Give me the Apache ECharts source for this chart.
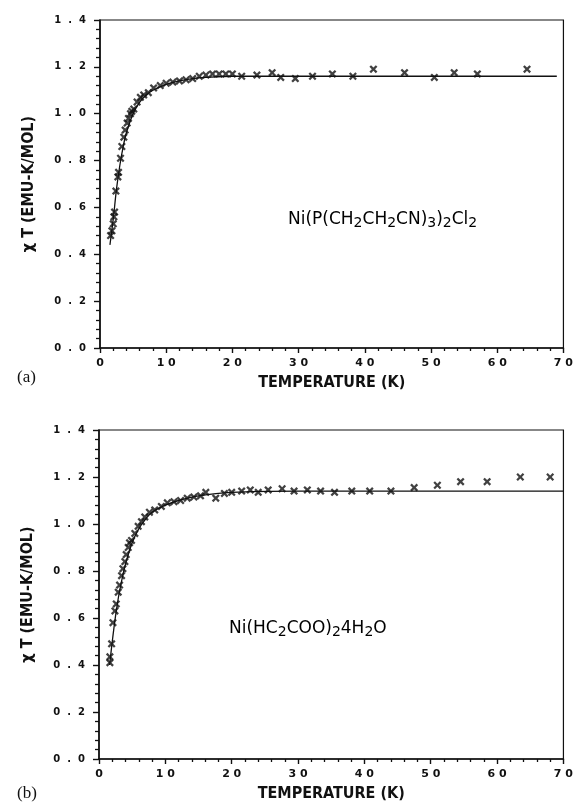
<!DOCTYPE html>
<html>
<head>
<meta charset="utf-8">
<script src="https://cdn.jsdelivr.net/npm/echarts@6/dist/echarts.min.js"></script>
<style>html,body{margin:0;padding:0;background:#fff;}#c{width:576px;height:807px;}</style>
</head>
<body>
<div id="c"></div>
<script>
// ---- Data: panel (a) Ni(P(CH2CH2CN)3)2Cl2 ----
const aTemp = [1.6,1.8,2.0,2.1,2.2,2.4,2.7,2.8,3.1,3.3,3.6,3.8,4.1,4.3,4.6,4.8,5.1,5.6,6.1,6.6,7.3,8.1,9.1,10.0,11.0,12.0,13.0,14.0,15.0,16.0,17.0,18.0,19.0,20.0,21.4,23.7,26.0,27.3,29.5,32.1,35.1,38.2,41.3,46.0,50.5,53.5,57.0,64.5];
const aChiT = [0.48,0.50,0.53,0.56,0.58,0.67,0.73,0.75,0.81,0.86,0.90,0.93,0.96,0.98,1.00,1.01,1.02,1.05,1.07,1.08,1.09,1.11,1.12,1.13,1.135,1.14,1.145,1.15,1.16,1.165,1.17,1.17,1.17,1.17,1.16,1.165,1.175,1.155,1.15,1.16,1.17,1.16,1.19,1.175,1.155,1.175,1.17,1.19];
const aFitT = [1.5,2,2.5,3,3.5,4,5,6,7,8,10,12,14,16,20,30,40,50,69];
const aFitY = [0.44,0.55,0.68,0.78,0.86,0.92,1.00,1.05,1.08,1.10,1.125,1.14,1.15,1.155,1.16,1.16,1.16,1.16,1.16];

// ---- Data: panel (b) Ni(HC2COO)2·4H2O ----
const bTemp = [1.64,1.64,1.9,2.1,2.4,2.6,2.9,3.1,3.4,3.6,3.9,4.1,4.4,4.6,4.9,5.4,5.9,6.4,6.9,7.6,8.4,9.4,10.3,11.3,12.3,13.3,14.3,15.3,16.1,17.6,18.9,20.0,21.5,22.8,24.0,25.5,27.6,29.4,31.4,33.4,35.5,38.1,40.8,44.0,47.5,51.0,54.5,58.5,63.5,68.0];
const bChiT = [0.41,0.435,0.49,0.58,0.63,0.66,0.71,0.74,0.78,0.81,0.84,0.87,0.90,0.92,0.93,0.96,0.99,1.01,1.03,1.05,1.06,1.075,1.09,1.095,1.10,1.11,1.115,1.12,1.135,1.11,1.13,1.135,1.14,1.145,1.135,1.145,1.15,1.14,1.145,1.14,1.135,1.14,1.14,1.14,1.155,1.165,1.18,1.18,1.20,1.20];
const bFitT = [1.6,2,2.5,3,3.5,4,5,6,7,8,10,12,15,20,30,40,70];
const bFitY = [0.40,0.50,0.61,0.70,0.77,0.83,0.92,0.98,1.02,1.05,1.08,1.10,1.12,1.135,1.14,1.14,1.14];

const xTicks = {min:0, max:70, interval:10};
const yTicks = {min:0, max:1.4, interval:0.2};
const xName = 'TEMPERATURE (K)';
const yName = 'χ T (EMU-K/MOL)';

const zip = (xs, ys) => xs.map((x,i)=>[x, ys[i]]);
const cross = 'path://M0,2L2,0L5,3L8,0L10,2L7,5L10,8L8,10L5,7L2,10L0,8L3,5Z';

function xAxis(gi){
  return {
    type:'value', gridIndex:gi, min:xTicks.min, max:xTicks.max, interval:xTicks.interval,
    name:xName, nameLocation:'middle', nameGap:27,
    nameTextStyle:{fontFamily:'Liberation Sans Narrow, DejaVu Sans Condensed, sans-serif', fontWeight:'bold', fontSize:16, color:'#111'},
    axisLine:{show:true, onZero:false, lineStyle:{color:'#111', width:1.6}},
    axisTick:{show:true, inside:false, length:5, lineStyle:{color:'#111', width:1.4}},
    minorTick:{show:true, splitNumber:5, length:3, lineStyle:{color:'#111', width:1.3}},
    splitLine:{show:false},
    axisLabel:{color:'#111', fontWeight:'bold', fontSize:11, fontFamily:'DejaVu Sans', margin:10,
      formatter:v=>String(v).split('').join(' ')}
  };
}
function yAxis(gi){
  return {
    type:'value', gridIndex:gi, min:yTicks.min, max:yTicks.max, interval:yTicks.interval,
    name:yName, nameLocation:'middle', nameGap:63, nameRotate:90,
    nameTextStyle:{fontFamily:'Liberation Sans Narrow, DejaVu Sans Condensed, sans-serif', fontWeight:'bold', fontSize:16, color:'#111'},
    axisLine:{show:true, onZero:false, lineStyle:{color:'#111', width:1.6}},
    axisTick:{show:true, inside:false, length:6, lineStyle:{color:'#111', width:1.4}},
    minorTick:{show:true, splitNumber:5, length:4, lineStyle:{color:'#111', width:1.3}},
    splitLine:{show:false},
    axisLabel:{color:'#111', fontWeight:'bold', fontSize:10, fontFamily:'DejaVu Sans', margin:14,
      formatter:v=>v.toFixed(1).split('').join('  ')}
  };
}
function fitSeries(gi, xs, ys){
  return {type:'line', xAxisIndex:gi, yAxisIndex:gi, data:zip(xs,ys), showSymbol:false, smooth:0.35,
    lineStyle:{color:'#111', width:1.3}, z:2, silent:true};
}
function ptSeries(gi, xs, ys){
  return {type:'scatter', xAxisIndex:gi, yAxisIndex:gi, data:zip(xs,ys), symbol:cross, symbolSize:8,
    itemStyle:{color:'#111'}, z:3, silent:true};
}

const sub = {fontSize:14, fontFamily:'DejaVu Sans, sans-serif', color:'#111', padding:[7,0,0,0]};
const main = {fontSize:17, fontFamily:'DejaVu Sans, sans-serif', color:'#111'};

const chart = echarts.init(document.getElementById('c'), null, {renderer:'canvas'});
chart.setOption({
  animation:false,
  backgroundColor:'#fff',
  grid:[
    {left:100, top:20, width:469, height:328, show:true, borderColor:'#111', borderWidth:1.2, backgroundColor:'transparent'},
    {left:99, top:430, width:469, height:329, show:true, borderColor:'#111', borderWidth:1.2, backgroundColor:'transparent'}
  ],
  xAxis:[xAxis(0), xAxis(1)],
  yAxis:[yAxis(0), yAxis(1)],
  series:[fitSeries(0,aFitT,aFitY), ptSeries(0,aTemp,aChiT), fitSeries(1,bFitT,bFitY), ptSeries(1,bTemp,bChiT)],
  graphic:[
    {type:'text', left:288, top:211, style:{
      text:'{m|Ni(P(CH}{s|2}{m|CH}{s|2}{m|CN)}{s|3}{m|)}{s|2}{m|Cl}{s|2}',
      rich:{m:main, s:sub}}},
    {type:'text', left:229, top:620, style:{
      text:'{m|Ni(HC}{s|2}{m|COO)}{s|2}{m|4H}{s|2}{m|O}',
      rich:{m:main, s:sub}}},
    {type:'text', left:17, top:369, style:{text:'(a)', fontFamily:'Liberation Serif, serif', fontSize:17, fill:'#111'}},
    {type:'text', left:17, top:785, style:{text:'(b)', fontFamily:'Liberation Serif, serif', fontSize:17, fill:'#111'}}
  ]
});
</script>
</body>
</html>
